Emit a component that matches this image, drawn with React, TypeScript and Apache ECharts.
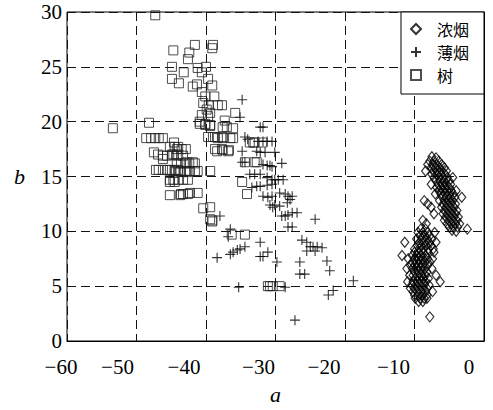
import React, { useEffect, useRef } from 'react';
import * as echarts from 'echarts';

const SERIES_NAMES = ['浓烟', '薄烟', '树'];
const X_TICK_VALUES = [-60, -50, -40, -30, -20, -10, 0];
const X_TICK_LABELS = ['−60', '−50', '−40', '−30', '−20', '−10', '0'];
const Y_TICK_VALUES = [0, 5, 10, 15, 20, 25, 30];
const Y_TICK_LABELS = ['0', '5', '10', '15', '20', '25', '30'];

// 浓烟 (dense smoke) – diamonds
const DENSE_SMOKE: [number, number][] = [
  [-7.5,16.8],[-6.9,16.7],
  [-7.8,16.4],[-7.2,16.4],[-6.5,16.4],
  [-8.1,16.1],[-7.4,16.1],[-6.8,16.1],[-6.1,16.1],
  [-7.6,15.8],[-7.0,15.8],[-6.4,15.8],[-5.7,15.8],
  [-8.4,15.5],[-7.3,15.5],[-6.7,15.5],[-6.1,15.5],[-5.4,15.5],
  [-7.5,15.2],[-6.8,15.2],[-6.2,15.2],[-5.6,15.2],
  [-7.2,14.9],[-6.5,14.9],[-5.9,14.9],[-5.3,14.9],[-4.5,14.9],
  [-6.9,14.6],[-6.3,14.6],[-5.7,14.6],[-5.0,14.6],
  [-7.6,14.3],[-6.6,14.3],[-6.0,14.3],[-5.4,14.3],[-4.8,14.3],
  [-6.8,14.0],[-6.2,14.0],[-5.6,14.0],[-5.0,14.0],
  [-6.5,13.7],[-5.9,13.7],[-5.3,13.7],[-4.7,13.7],[-4.0,13.7],
  [-7.0,13.4],[-6.2,13.4],[-5.6,13.4],[-5.0,13.4],[-4.4,13.4],
  [-6.0,13.1],[-5.4,13.1],[-4.8,13.1],[-4.2,13.1],[-3.2,13.1],
  [-8.6,12.8],[-6.4,12.8],[-5.7,12.8],[-5.1,12.8],[-4.5,12.8],
  [-8.1,12.5],[-5.9,12.5],[-5.3,12.5],[-4.7,12.5],[-4.1,12.5],
  [-7.6,12.2],[-6.1,12.2],[-5.5,12.2],[-4.9,12.2],[-4.3,12.2],
  [-5.7,11.9],[-5.1,11.9],[-4.5,11.9],[-3.9,11.9],
  [-7.2,11.6],[-5.9,11.6],[-5.3,11.6],[-4.7,11.6],[-4.1,11.6],
  [-5.5,11.3],[-4.9,11.3],[-4.3,11.3],[-3.7,11.3],
  [-8.8,11.0],[-5.7,11.0],[-5.1,11.0],[-4.5,11.0],[-3.9,11.0],
  [-8.3,10.7],[-5.3,10.7],[-4.7,10.7],[-4.1,10.7],[-3.5,10.7],
  [-5.0,10.4],[-4.4,10.4],[-3.8,10.4],[-2.4,10.2],
  [-4.6,10.1],[-4.0,10.0],
  [-9.1,10.2],[-8.4,10.2],
  [-9.5,9.9],[-8.8,9.9],[-8.1,9.9],[-7.1,9.9],
  [-9.2,9.6],[-8.5,9.6],[-7.8,9.6],
  [-9.7,9.3],[-8.9,9.3],[-8.2,9.3],[-7.5,9.3],
  [-11.4,9.0],[-9.3,9.0],[-8.6,9.0],[-7.9,9.0],[-6.9,9.0],
  [-9.6,8.7],[-9.0,8.7],[-8.3,8.7],[-7.6,8.7],
  [-10.0,8.4],[-9.3,8.4],[-8.7,8.4],[-8.0,8.4],[-7.3,8.4],
  [-10.0,8.1],[-9.4,8.1],[-8.8,8.1],[-8.1,8.1],[-7.2,8.1],
  [-11.8,7.8],[-10.3,7.8],[-9.7,7.8],[-9.1,7.8],[-8.4,7.8],
  [-10.9,7.5],[-10.0,7.5],[-9.4,7.5],[-8.8,7.5],[-8.1,7.5],[-7.4,7.5],
  [-10.3,7.2],[-9.7,7.2],[-9.1,7.2],[-8.5,7.2],[-7.8,7.2],
  [-10.6,6.9],[-10.0,6.9],[-9.4,6.9],[-8.8,6.9],[-8.1,6.9],
  [-11.1,6.6],[-10.3,6.6],[-9.7,6.6],[-9.1,6.6],[-8.5,6.6],[-7.5,6.6],
  [-10.0,6.3],[-9.4,6.3],[-8.8,6.3],[-8.2,6.3],
  [-10.7,6.0],[-10.2,6.0],[-9.6,6.0],[-9.0,6.0],[-8.4,6.0],[-6.9,6.0],
  [-9.9,5.7],[-9.3,5.7],[-8.7,5.7],[-8.0,5.7],
  [-11.0,5.4],[-10.2,5.4],[-9.6,5.4],[-9.0,5.4],[-8.4,5.4],[-6.3,5.4],
  [-10.4,5.1],[-9.8,5.1],[-9.2,5.1],[-8.6,5.1],[-7.9,5.1],
  [-10.6,4.8],[-10.0,4.8],[-9.4,4.8],[-8.8,4.8],[-8.2,4.8],
  [-10.2,4.5],[-9.6,4.5],[-9.0,4.5],[-8.4,4.5],[-7.4,4.5],
  [-10.0,4.2],[-9.4,4.2],[-8.8,4.2],[-8.2,4.2],
  [-9.9,3.9],[-9.2,3.9],[-8.6,3.9],[-8.2,3.9],
  [-9.4,3.6],[-8.8,3.6],
  [-7.8,2.2],
];

// 薄烟 (thin smoke) – pluses
const THIN_SMOKE: [number, number][] = [
  [-34.8,22.0],[-32.2,19.5],[-31.8,19.5],[-35.1,20.4],[-34.4,18.6],[-34.0,18.4],
  [-32.5,18.2],[-31.8,18.2],[-31.2,18.2],[-30.5,18.2],[-34.8,17.3],[-32.7,17.3],
  [-32.2,17.2],[-31.5,17.2],[-30.1,17.2],[-34.8,16.3],[-34.4,16.3],[-31.8,16.1],
  [-31.2,16.0],[-30.8,16.0],[-30.5,15.9],[-29.1,16.2],[-33.7,15.2],[-33.0,15.2],
  [-32.2,15.2],[-31.2,14.9],[-30.5,14.7],[-30.1,14.7],[-29.6,14.7],[-28.9,14.7],
  [-33.4,14.0],[-32.7,14.1],[-32.2,14.1],[-31.2,14.2],[-30.5,14.3],[-31.8,13.2],
  [-31.1,13.1],[-30.5,13.2],[-29.4,13.5],[-28.6,13.4],[-28.2,13.2],[-27.6,13.2],
  [-30.8,12.4],[-30.1,12.4],[-29.4,12.3],[-28.3,12.6],[-27.9,12.9],[-30.4,12.2],
  [-29.1,11.4],[-28.6,11.4],[-28.2,11.5],[-27.6,11.7],[-26.9,11.7],[-38.0,11.4],
  [-28.2,10.4],[-27.6,10.4],[-24.3,11.1],[-36.5,10.2],[-36.8,9.5],[-26.2,9.2],
  [-25.5,9.0],[-25.0,8.6],[-24.6,8.6],[-24.0,8.6],[-23.3,8.5],[-25.5,8.2],
  [-24.3,8.2],[-36.1,8.1],[-35.5,8.3],[-35.1,8.4],[-34.4,8.6],[-36.5,7.9],
  [-38.4,7.6],[-32.2,9.0],[-32.2,7.7],[-31.8,7.7],[-31.1,8.1],[-29.8,7.2],
  [-26.5,7.2],[-22.6,7.3],[-22.2,6.4],[-26.5,6.1],[-25.8,6.1],[-18.8,5.5],
  [-35.3,4.9],[-28.6,4.9],[-21.7,4.6],[-22.4,4.2],[-27.2,1.9],
];

// 树 (trees) – squares
const TREE: [number, number][] = [
  [-47.3,29.7],[-41.6,27.0],[-39.0,27.0],[-39.1,26.7],[-44.7,26.5],[-42.4,26.3],
  [-42.6,25.7],[-44.9,25.0],[-43.2,24.5],[-41.2,24.9],[-40.0,25.0],[-40.6,24.5],
  [-44.9,23.9],[-43.9,23.5],[-39.7,23.9],[-41.9,23.2],[-41.3,23.4],[-39.1,23.3],
  [-40.6,22.7],[-40.1,22.3],[-38.8,22.3],[-40.4,21.7],[-39.6,21.5],[-38.3,21.5],
  [-37.7,21.5],[-39.9,21.1],[-39.4,20.8],[-40.6,20.6],[-39.7,20.5],[-35.8,20.8],
  [-40.9,20.0],[-40.1,19.8],[-39.4,19.6],[-37.3,20.1],[-37.6,19.5],[-36.1,19.4],
  [-48.2,19.9],[-53.4,19.4],[-39.7,18.6],[-38.7,18.6],[-37.6,18.6],[-36.5,18.5],
  [-33.2,18.1],[-38.4,17.3],[-36.7,17.4],[-32.7,16.3],[-34.4,16.3],
  [-48.6,18.5],[-47.9,18.5],[-47.3,18.5],[-46.8,18.5],[-46.2,18.5],[-44.6,18.1],
  [-45.2,17.7],[-44.5,17.7],[-44.0,17.7],[-47.5,17.2],[-46.9,17.0],[-46.2,16.9],
  [-45.6,16.9],[-44.9,17.0],[-44.2,16.9],[-46.2,16.6],[-47.2,15.6],[-46.8,15.6],
  [-46.2,15.6],[-45.6,15.6],[-45.2,15.6],[-44.5,15.6],[-44.0,15.6],[-45.2,14.5],
  [-44.5,14.5],[-45.2,13.3],[-43.7,13.3],
  [-44.2,17.5],[-43.5,17.5],[-42.9,17.5],[-44.7,17.0],[-44.0,17.0],[-43.3,16.9],
  [-44.2,16.2],[-43.6,16.2],[-43.0,16.2],[-42.4,16.2],[-41.6,16.2],[-44.5,15.5],
  [-43.7,15.5],[-43.0,15.5],[-42.3,15.5],[-41.2,15.5],[-45.2,14.7],[-44.7,14.7],
  [-44.0,14.7],[-43.3,14.7],[-42.6,14.7],[-43.6,13.4],[-42.6,13.4],[-41.2,13.5],
  [-39.4,15.5],[-40.4,12.1],[-39.4,12.2],[-39.1,11.0],
  [-34.8,14.5],[-34.1,13.4],[-43.3,13.4],[-42.3,13.5],[-39.4,11.1],[-39.1,10.9],
  [-36.3,9.7],[-34.4,9.7],[-31.1,5.0],[-30.4,5.0],[-40.9,19.8],[-40.1,19.7],
  [-39.4,19.7],[-37.0,19.5],[-39.0,18.6],[-38.3,18.5],[-37.6,18.5],[-36.1,18.5],
  [-37.6,17.4],[-36.8,17.3],[-33.7,18.1],[-33.0,18.1],[-33.0,16.3],[-42.7,16.3],
  [-41.9,16.3],[-43.7,15.4],[-42.7,15.4],[-41.6,15.5],[-31.9,18.1],[-38.7,17.5],
  [-37.7,17.5],[-30.8,5.0],[-29.4,5.0],
];

// label horizontal shift (px) relative to the gridline, as in the original figure
const X_LABEL_SHIFT = [-6, -19, -22, -17, -21, -21, -15];

const SERIF = "'Liberation Serif', 'Times New Roman', serif";
const CJK = "'Noto Sans CJK SC', sans-serif";

export default function App() {
  const ref = useRef<HTMLDivElement>(null);
  useEffect(() => {
    if (!ref.current) return;
    const chart = echarts.init(ref.current, undefined, { renderer: 'svg' });
    const rich: Record<string, any> = {};
    X_LABEL_SHIFT.forEach((s, i) => {
      rich['s' + i] = {
        fontSize: 21,
        fontFamily: SERIF,
        color: '#000',
        padding: s < 0 ? [0, -2 * s, 0, 0] : [0, 0, 0, 2 * s],
      };
    });
    const plusPath = 'path://M0,5L10,5M5,0L5,10';
    chart.setOption({
      animation: false,
      backgroundColor: '#fff',
      textStyle: { fontFamily: SERIF },
      grid: {
        left: 67, right: 9, top: 12, bottom: 68,
        show: true, borderColor: '#000', borderWidth: 1, backgroundColor: 'transparent',
      },
      legend: {
        data: SERIES_NAMES,
        orient: 'vertical',
        right: 9,
        top: 12,
        backgroundColor: '#fff',
        borderColor: '#000',
        borderWidth: 1,
        borderRadius: 0,
        padding: [7, 15, 9, 9],
        itemGap: 3,
        itemWidth: 10,
        itemHeight: 10,
        textStyle: { fontSize: 16, lineHeight: 20, fontFamily: CJK, color: '#000', padding: [0, 0, 0, 11] },
      },
      xAxis: {
        type: 'value',
        min: -60, max: 0, interval: 10,
        name: 'a',
        nameLocation: 'middle',
        nameGap: 42,
        nameTextStyle: { fontSize: 22, fontStyle: 'italic', fontFamily: SERIF, color: '#000' },
        axisLine: { show: true, lineStyle: { color: '#000', width: 1 } },
        axisTick: { show: false },
        axisLabel: {
          margin: 15,
          fontFamily: SERIF,
          formatter: (v: number) => {
            const i = X_TICK_VALUES.indexOf(Math.round(v));
            return i < 0 ? '' : `{s${i}|${X_TICK_LABELS[i]}}`;
          },
          rich,
        },
        splitLine: { show: true, lineStyle: { color: '#111', width: 1, type: [9, 5] } },
      },
      yAxis: {
        type: 'value',
        min: 0, max: 30, interval: 5,
        name: 'b',
        nameLocation: 'middle',
        nameRotate: 0,
        nameGap: 42,
        nameTextStyle: { fontSize: 22, fontStyle: 'italic', fontFamily: SERIF, color: '#000' },
        axisLine: { show: true, lineStyle: { color: '#000', width: 1 } },
        axisTick: { show: false },
        axisLabel: {
          margin: 5,
          fontSize: 21,
          fontFamily: SERIF,
          color: '#000',
          formatter: (v: number) => {
            const i = Y_TICK_VALUES.indexOf(Math.round(v));
            return i < 0 ? '' : Y_TICK_LABELS[i];
          },
        },
        splitLine: { show: true, lineStyle: { color: '#111', width: 1, type: [9, 5] } },
      },
      series: [
        {
          name: SERIES_NAMES[0],
          type: 'scatter',
          symbol: 'diamond',
          symbolSize: [8, 10],
          data: DENSE_SMOKE,
          itemStyle: { color: 'rgba(255,255,255,0)', borderColor: '#000', borderWidth: 1.2 },
          z: 3,
        },
        {
          name: SERIES_NAMES[1],
          type: 'scatter',
          symbol: plusPath,
          symbolSize: 10,
          data: THIN_SMOKE,
          itemStyle: { color: 'rgba(255,255,255,0)', borderColor: '#000', borderWidth: 1.1 },
          z: 3,
        },
        {
          name: SERIES_NAMES[2],
          type: 'scatter',
          symbol: 'rect',
          symbolSize: 9,
          data: TREE,
          itemStyle: { color: 'rgba(255,255,255,0)', borderColor: '#222', borderWidth: 1 },
          z: 3,
        },
      ],
    });
    return () => chart.dispose();
  }, []);
  return (
    <div
      ref={ref}
      style={{ position: 'absolute', left: 0, top: 0, width: 493, height: 410 }}
    />
  );
}
